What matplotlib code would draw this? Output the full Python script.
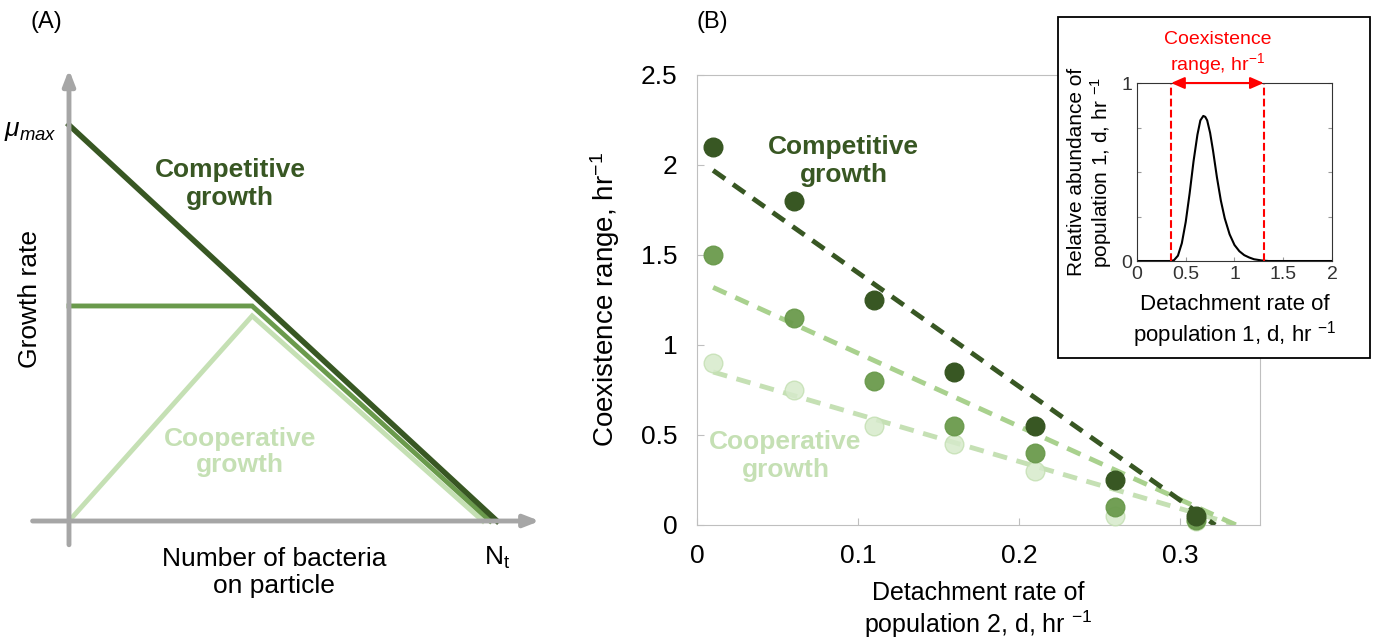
import numpy as np
import matplotlib
matplotlib.use("Agg")
import matplotlib.pyplot as plt
from matplotlib.patches import Rectangle

plt.rcParams['font.family'] = ['Liberation Sans', 'DejaVu Sans']
plt.rcParams['mathtext.fontset'] = 'custom'
plt.rcParams['mathtext.it'] = 'Liberation Sans:italic'
plt.rcParams['mathtext.rm'] = 'Liberation Sans'

# ---- data ----
# panel A schematic (x: fraction of N_t, y: fraction of mu_max)
comp_x = [0.0, 1.0]
comp_y = [1.0, 0.0]
coop_mid_x = [0.0, 0.428, 0.984]
coop_mid_y = [0.543, 0.543, 0.0]
coop_light_x = [0.0, 0.428, 0.967]
coop_light_y = [0.0, 0.518, 0.0]

# panel B
d2 = [0.01, 0.06, 0.11, 0.16, 0.21, 0.26, 0.31]
range_dark = [2.1, 1.8, 1.25, 0.85, 0.55, 0.25, 0.05]
range_mid = [1.5, 1.15, 0.8, 0.55, 0.4, 0.1, 0.03]
range_light = [0.9, 0.75, 0.55, 0.45, 0.3, 0.05, 0.02]
fit_dark_x = [0.01, 0.322]
fit_dark_y = [1.97, 0.0]
fit_mid_x = [0.01, 0.335]
fit_mid_y = [1.32, 0.0]
fit_light_x = [0.01, 0.335]
fit_light_y = [0.85, 0.0]

# inset curve
d1 = [0.0, 0.35, 0.38, 0.42, 0.46, 0.50, 0.54, 0.58, 0.62, 0.65, 0.68, 0.70,
      0.72, 0.75, 0.78, 0.82, 0.86, 0.90, 0.95, 1.00, 1.05, 1.10, 1.15, 1.20,
      1.28, 1.35, 2.0]
abund = [0.0, 0.0, 0.005, 0.03, 0.10, 0.22, 0.38, 0.56, 0.71, 0.79, 0.815, 0.81,
         0.79, 0.72, 0.62, 0.47, 0.34, 0.24, 0.15, 0.09, 0.055, 0.033, 0.02, 0.01,
         0.003, 0.0, 0.0]
coex_lo = 0.35
coex_hi = 1.3

dark = '#385723'
mid = '#6A9A4C'
light = '#C5E0B4'
midline = '#A9D18E'
gray = '#A6A6A6'

fig = plt.figure(figsize=(13.77, 6.41), dpi=100)

# ---------------- Panel A ----------------
axA = fig.add_axes([0.0501, 0.1872, 0.3108, 0.6178])
axA.set_xlim(0, 1)
axA.set_ylim(0, 1)
axA.axis('off')
axA.annotate('', xy=(1.1, 0), xytext=(-0.085, 0),
             arrowprops=dict(arrowstyle='-|>,head_length=0.9,head_width=0.35', color=gray, lw=3.5,
                             shrinkA=0, shrinkB=0), annotation_clip=False)
axA.annotate('', xy=(0, 1.14), xytext=(0, -0.06),
             arrowprops=dict(arrowstyle='-|>,head_length=0.9,head_width=0.35', color=gray, lw=3.5,
                             shrinkA=0, shrinkB=0), annotation_clip=False)
axA.plot(coop_light_x, coop_light_y, color=light, lw=3.5, clip_on=False, solid_joinstyle='miter')
axA.plot(coop_mid_x, coop_mid_y, color=mid, lw=3.5, clip_on=False, solid_joinstyle='miter')
axA.plot(comp_x, comp_y, color=dark, lw=4, clip_on=False)
axA.text(-0.03, 0.985, r'$\mu_{max}$', ha='right', va='center', fontsize=19)
axA.text(0.376, 0.85, 'Competitive\ngrowth', ha='center', va='center', fontsize=19,
         fontweight='bold', color=dark, linespacing=1.2)
axA.text(0.4, 0.175, 'Cooperative\ngrowth', ha='center', va='center', fontsize=19,
         fontweight='bold', color=light, linespacing=1.1)
axA.text(-0.09, 0.56, 'Growth rate', rotation=90, ha='center', va='center', fontsize=19)
axA.text(0.48, -0.13, 'Number of bacteria\non particle', ha='center', va='center', fontsize=19,
         linespacing=1.2)
axA.text(1.0, -0.093, r'N$_\mathrm{t}$', ha='center', va='center', fontsize=19)
fig.text(30 / 1377, 1 - 22 / 641, '(A)', ha='left', va='center', fontsize=17)

# ---------------- Panel B ----------------
axB = fig.add_axes([0.5062, 0.181, 0.409, 0.702])
axB.set_xlim(0, 0.35)
axB.set_ylim(0, 2.5)
axB.plot(fit_light_x, fit_light_y, '--', color=light, lw=3.5, dashes=(3, 2), zorder=2)
axB.plot(fit_mid_x, fit_mid_y, '--', color=midline, lw=3.5, dashes=(3, 2), zorder=2)
axB.plot(fit_dark_x, fit_dark_y, '--', color=dark, lw=3.5, dashes=(3, 2), zorder=2)
axB.scatter(d2, range_light, s=180, color='#D6EACB', edgecolor='#C5E0B4', lw=1, alpha=0.85,
            zorder=3, clip_on=False)
axB.scatter(d2, range_mid, s=180, color=mid, edgecolor=mid, alpha=0.95, zorder=4, clip_on=False)
axB.scatter(d2, range_dark, s=180, color=dark, zorder=5, clip_on=False)
axB.set_xticks([0, 0.1, 0.2, 0.3])
axB.set_xticklabels(['0', '0.1', '0.2', '0.3'])
axB.set_yticks([0, 0.5, 1, 1.5, 2, 2.5])
axB.set_yticklabels(['0', '0.5', '1', '1.5', '2', '2.5'])
for s in axB.spines.values():
    s.set_color('#BFBFBF')
axB.tick_params(direction='in', length=5, color='#BFBFBF', labelsize=19, pad=14)
axB.set_ylabel('Coexistence range, hr$^{-1}$', fontsize=20, labelpad=14)
axB.set_xlabel('Detachment rate of\npopulation 2, d, hr $^{-1}$', fontsize=18, labelpad=9,
               linespacing=1.15)
axB.text(0.091, 2.02, 'Competitive\ngrowth', ha='center', va='center', fontsize=19,
         fontweight='bold', color=dark, linespacing=1.2)
axB.text(0.055, 0.383, 'Cooperative\ngrowth', ha='center', va='center', fontsize=19,
         fontweight='bold', color=light, linespacing=1.2)
fig.text(697 / 1377, 1 - 22 / 641, '(B)', ha='left', va='center', fontsize=17)

# ---------------- Inset ----------------
fig.patches.append(Rectangle((0.7683, 0.4415), 0.2266, 0.532, transform=fig.transFigure,
                             facecolor='white', edgecolor='black', lw=1.3, zorder=5))
axI = fig.add_axes([0.8257, 0.5928, 0.1416, 0.2777])
axI.set_zorder(6)
axI.set_xlim(0, 2)
axI.set_ylim(0, 1)
axI.plot(d1, abund, color='black', lw=1.5)
axI.axvline(coex_lo, color='red', ls='--', lw=1.5, clip_on=False)
axI.axvline(coex_hi, color='red', ls='--', lw=1.5, clip_on=False)
axI.annotate('', xy=(coex_lo, 1.0), xytext=(coex_hi, 1.0),
             arrowprops=dict(arrowstyle='<|-|>,head_length=0.8,head_width=0.35', color='red', lw=1.5,
                             shrinkA=0, shrinkB=0), annotation_clip=False)
axI.text((coex_lo + coex_hi) / 2, 1.035, 'Coexistence\nrange, hr$^{-1}$', color='red',
         ha='center', va='bottom', fontsize=14, linespacing=1.15)
axI.set_xticks([0, 0.5, 1, 1.5, 2])
axI.set_xticklabels(['0', '0.5', '1', '1.5', '2'])
axI.set_yticks([0, 0.25, 0.5, 0.75, 1])
axI.set_yticklabels(['0', '', '', '', '1'])
axI.tick_params(direction='in', length=3, color='#999999', labelsize=14, right=True, top=False,
                labelcolor='#333333')
for s in axI.spines.values():
    s.set_color('#333333')
axI.set_ylabel('Relative abundance of\npopulation 1, d, hr $^{-1}$', fontsize=15, labelpad=5,
               linespacing=1.1)
axI.set_xlabel('Detachment rate of\npopulation 1, d, hr $^{-1}$', fontsize=16, labelpad=8,
               linespacing=1.2)

fig.savefig('out.png', dpi=100)
